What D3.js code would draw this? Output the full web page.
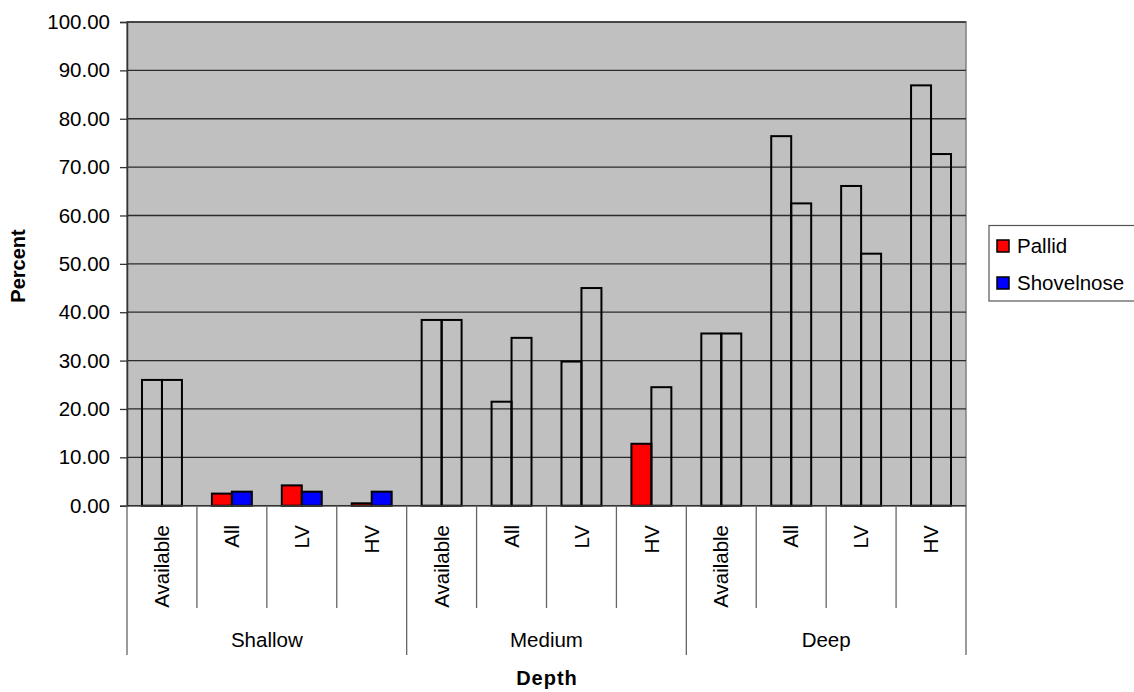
<!DOCTYPE html>
<html>
<head>
<meta charset="utf-8">
<script src="https://cdn.jsdelivr.net/npm/d3@7"></script>
<style>
  html, body { margin: 0; padding: 0; background: #fff; }
  svg { display: block; font-family: "Liberation Sans", Arial, sans-serif; }
</style>
</head>
<body>
<svg id="chart" width="1134" height="692"></svg>
<script>
// Depth classes and the sub-categories within each
const groups = ["Shallow", "Medium", "Deep"];
const subCategories = ["Available", "All", "LV", "HV"];

// Percent values per bar, in order Shallow (4), Medium (4), Deep (4)
const pallid     = [26.0, 2.5, 4.2, 0.5, 38.4, 21.5, 29.8, 12.8, 35.6, 76.4, 66.1, 86.9];
const shovelnose = [26.0, 2.9, 2.9, 2.9, 38.4, 34.7, 45.0, 24.5, 35.6, 62.5, 52.1, 72.7];

// Which bars carry the series colour (the rest are drawn as outlines only)
const pallidFilled     = [false, true, true, true, false, false, false, true, false, false, false, false];
const shovelnoseFilled = [false, true, true, true, false, false, false, false, false, false, false, false];

const yTicks = [0, 10, 20, 30, 40, 50, 60, 70, 80, 90, 100];

const seriesNames = ["Pallid", "Shovelnose"];
const seriesColors = ["#FF0000", "#0000FF"];

const svg = d3.select("#chart");
const plot = { left: 127, right: 966, top: 22, bottom: 505.7 };
const FS = 20.5;

// Flattened category keys
const cats = [];
groups.forEach((g, gi) => subCategories.forEach((s, si) => cats.push({ key: gi * 4 + si, group: g, sub: s })));

const x = d3.scaleBand().domain(cats.map(c => c.key)).range([plot.left, plot.right]).paddingInner(0).paddingOuter(0);
const bw = x.bandwidth();
const xs = d3.scaleBand().domain([0, 1]).range([0, bw]).paddingInner(0).paddingOuter(0.75);
const y = d3.scaleLinear().domain([0, 100]).range([plot.bottom, plot.top]);

// plot area
svg.append("rect")
  .attr("x", plot.left).attr("y", plot.top)
  .attr("width", plot.right - plot.left).attr("height", plot.bottom - plot.top)
  .attr("fill", "#C0C0C0").attr("stroke", "#808080").attr("stroke-width", 1.5);

// gridlines
svg.append("g").selectAll("line").data(yTicks.filter(t => t > 0)).join("line")
  .attr("x1", plot.left).attr("x2", plot.right)
  .attr("y1", d => y(d)).attr("y2", d => y(d))
  .attr("stroke", "#2a2a2a").attr("stroke-width", 1.3);

// bars
const series = [
  { name: seriesNames[0], values: pallid, filled: pallidFilled, color: seriesColors[0] },
  { name: seriesNames[1], values: shovelnose, filled: shovelnoseFilled, color: seriesColors[1] }
];
series.forEach((s, si) => {
  svg.append("g").selectAll("rect").data(s.values).join("rect")
    .attr("x", (d, i) => x(i) + xs(si))
    .attr("y", d => y(d))
    .attr("width", xs.bandwidth())
    .attr("height", d => y(0) - y(d))
    .attr("fill", (d, i) => s.filled[i] ? s.color : "none")
    .attr("stroke", "#000").attr("stroke-width", 2);
});

// y axis
const yAxis = d3.axisLeft(y).tickValues(yTicks).tickFormat(d3.format(".2f")).tickSize(7).tickPadding(10);
const ya = svg.append("g").attr("transform", `translate(${plot.left},0)`).call(yAxis);
ya.select(".domain").attr("stroke", "#333").attr("stroke-width", 1.5);
ya.selectAll(".tick line").attr("stroke", "#333").attr("stroke-width", 1.3);
ya.selectAll(".tick text").attr("font-size", FS).attr("fill", "#000")
  .attr("font-family", "'Liberation Sans', Arial, sans-serif");

// x axis baseline
svg.append("line").attr("x1", plot.left).attr("x2", plot.right)
  .attr("y1", plot.bottom).attr("y2", plot.bottom)
  .attr("stroke", "#333").attr("stroke-width", 1.5);

// category separators (inner level)
const innerBottom = 608, outerBottom = 655;
const bounds = d3.range(cats.length + 1).map(i => i < cats.length ? x(i) : plot.right);
svg.append("g").selectAll("line").data(bounds).join("line")
  .attr("x1", d => d).attr("x2", d => d)
  .attr("y1", plot.bottom)
  .attr("y2", (d, i) => (i % 4 === 0) ? outerBottom : innerBottom)
  .attr("stroke", "#666").attr("stroke-width", 1.3);

// sub-category labels (rotated)
svg.append("g").selectAll("text").data(cats).join("text")
  .attr("transform", d => `translate(${x(d.key) + bw / 2},525) rotate(-90)`)
  .attr("text-anchor", "end").attr("dy", "0.35em")
  .attr("font-size", FS).attr("fill", "#000")
  .text(d => d.sub);

// group labels
svg.append("g").selectAll("text").data(groups).join("text")
  .attr("x", (d, i) => (x(i * 4) + (i * 4 + 4 < cats.length ? x(i * 4 + 4) : plot.right)) / 2)
  .attr("y", 647)
  .attr("text-anchor", "middle").attr("font-size", FS).attr("fill", "#000")
  .text(d => d);

// axis titles
svg.append("text").attr("x", 547).attr("y", 685)
  .attr("text-anchor", "middle").attr("font-size", 20).attr("font-weight", "bold")
  .attr("letter-spacing", "1px").text("Depth");
svg.append("text").attr("transform", "translate(25,266) rotate(-90)")
  .attr("text-anchor", "middle").attr("font-size", 20).attr("font-weight", "bold")
  .text("Percent");

// legend
const lg = svg.append("g");
lg.append("rect").attr("x", 989).attr("y", 225.5).attr("width", 150).attr("height", 75.5)
  .attr("fill", "#fff").attr("stroke", "#555").attr("stroke-width", 1.2);
const items = lg.selectAll("g.item").data(series).join("g").attr("class", "item")
  .attr("transform", (d, i) => `translate(997,${240 + i * 37})`);
items.append("rect").attr("width", 12).attr("height", 12)
  .attr("fill", d => d.color).attr("stroke", "#000").attr("stroke-width", 1.5);
items.append("text").attr("x", 20).attr("y", 6).attr("dy", "0.35em")
  .attr("font-size", FS).attr("fill", "#000").text(d => d.name);
</script>
</body>
</html>
